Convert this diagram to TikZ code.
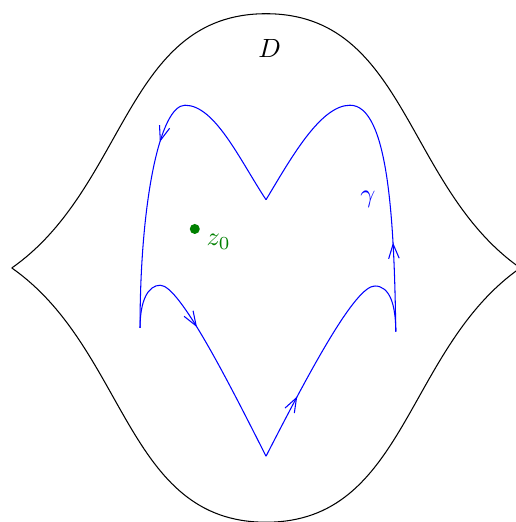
\documentclass[tikz,border=0pt]{standalone}
\usepackage{tkz-euclide}
\usetikzlibrary{arrows.meta,calc,decorations.markings}
\definecolor{CurveClr}{rgb}{0,0,1}
\definecolor{PointClr}{rgb}{0,0.5,0}
\tikzset{arr/.style={postaction={decorate},
  decoration={markings,mark=at position #1 with
    {\arrow{Straight Barb[length=5.5pt,width=4pt]}}}}}

\begin{document}
\begin{tikzpicture}
\useasboundingbox (-3.547,-3.387) rectangle (3.333,3.573);

% the domain D
\tkzDefPoints{-3.39/0/L,3.39/0/R,0/3.39/T,0/-3.39/B}
\draw[black] (L) to[out=35,in=180] (T) to[out=0,in=145] (R)
  to[out=-145,in=0] (B) to[out=180,in=-35] (L);
\node (D) at (0.05,2.93) {$D$};

% the curve gamma
\tkzDefPoints{-1.68/-0.80/A,-1.41/-0.23/P1,0/-2.51/V1,1.45/-0.24/P2,
  1.73/-0.85/E,1.12/2.17/P3,0/0.91/V2,-1.08/2.17/P4}
\begin{scope}[CurveClr]
\draw[arr=0.2] (P4) .. controls (-1.41,2.17) and (-1.68,0.91) .. (A);
\draw (A) .. controls (-1.68,-0.43) and (-1.57,-0.23) .. (P1);
\draw[arr=0.28] (P1) .. controls (-1.15,-0.23) and (-0.48,-1.56) .. (V1);
\draw[arr=0.33] (V1) .. controls (0.59,-1.36) and (1.19,-0.24) .. (P2);
\draw (P2) .. controls (1.65,-0.24) and (1.73,-0.49) .. (E);
\draw[arr=0.37] (E) .. controls (1.71,0.64) and (1.63,2.17) .. (P3);
\draw (P3) .. controls (0.72,2.17) and (0.32,1.44) .. (V2);
\draw (V2) .. controls (-0.35,1.44) and (-0.68,2.17) .. (P4);
\node (gamma) at (1.36,0.91) {$\gamma$};
\end{scope}

% the point z0
\tkzDefPoint(-0.95,0.52){Z}
\fill[PointClr] (Z) circle (1.9pt);
\node[PointClr] (z0) at ($(Z)+(0.32,-0.17)$) {$z_0$};

\end{tikzpicture}
\end{document}
